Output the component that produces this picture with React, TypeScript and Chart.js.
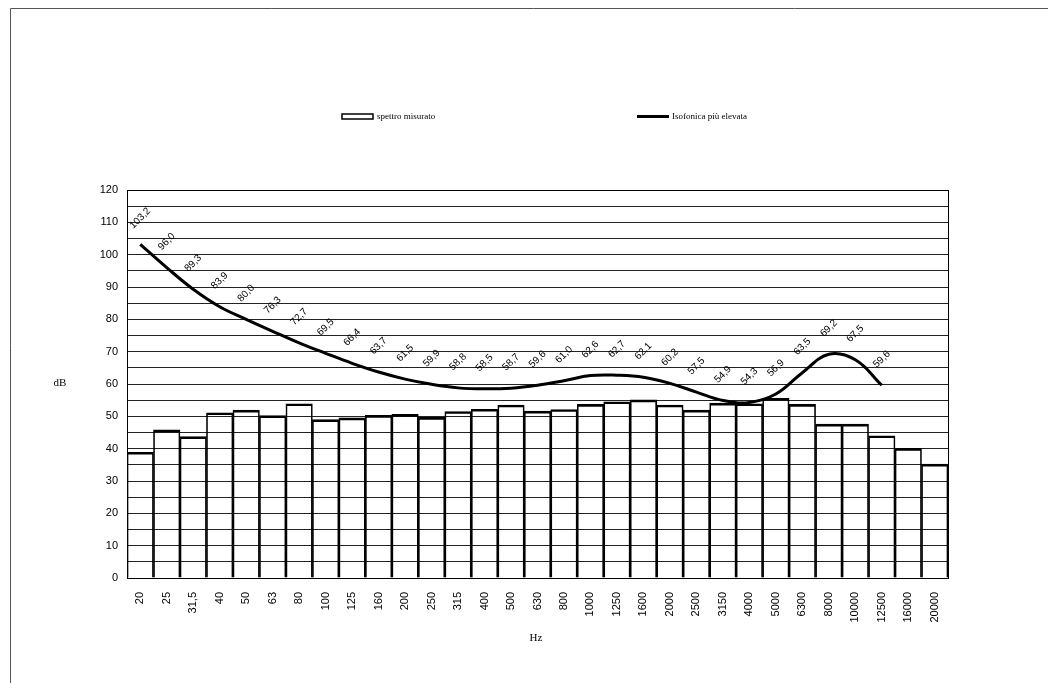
import React, { useEffect, useRef } from "react";
import { Chart, registerables } from "chart.js";

Chart.register(...registerables);

const categories = [
  "20", "25", "31,5", "40", "50", "63", "80", "100", "125", "160", "200", "250",
  "315", "400", "500", "630", "800", "1000", "1250", "1600", "2000", "2500",
  "3150", "4000", "5000", "6300", "8000", "10000", "12500", "16000", "20000",
];

const spettroMisurato = [
  38.9, 45.8, 43.7, 51.1, 51.9, 50.2, 53.9, 49.0, 49.5, 50.3, 50.6, 49.7,
  51.5, 52.2, 53.5, 51.6, 52.1, 53.7, 54.5, 55.1, 53.5, 51.9, 54.1, 53.9,
  55.6, 53.7, 47.6, 47.6, 44.0, 40.1, 35.2,
];

const isofonica = [
  103.2, 96.0, 89.3, 83.9, 80.0, 76.3, 72.7, 69.5, 66.4, 63.7, 61.5, 59.9,
  58.8, 58.5, 58.7, 59.6, 61.0, 62.6, 62.7, 62.1, 60.2, 57.5, 54.9, 54.3,
  56.9, 63.5, 69.2, 67.5, 59.6, null, null,
];

const yTicks = [0, 10, 20, 30, 40, 50, 60, 70, 80, 90, 100, 110, 120];

const W = 1048;
const H = 675;

const decorPlugin = {
  id: "decor",
  afterDatasetsDraw(chart: any) {
    const { ctx, chartArea } = chart;
    ctx.save();
    // plot area border
    ctx.strokeStyle = "#000";
    ctx.lineWidth = 1;
    ctx.strokeRect(
      Math.round(chartArea.left) + 0.5,
      Math.round(chartArea.top) + 0.5,
      Math.round(chartArea.right - chartArea.left),
      Math.round(chartArea.bottom - chartArea.top)
    );
    // data labels for line
    const meta = chart.getDatasetMeta(1);
    ctx.fillStyle = "#000";
    ctx.font = "10px 'Liberation Sans', sans-serif";
    ctx.textAlign = "center";
    ctx.textBaseline = "middle";
    meta.data.forEach((pt: any, i: number) => {
      const v = isofonica[i];
      if (v === null || v === undefined) return;
      ctx.save();
      ctx.translate(pt.x, pt.y - 26);
      ctx.rotate(-Math.PI / 4);
      ctx.fillText(v.toFixed(1).replace(".", ","), 0, 0);
      ctx.restore();
    });
    ctx.restore();
  },
  afterDraw(chart: any) {
    const { ctx } = chart;
    ctx.save();
    // outer frame (top and left)
    ctx.strokeStyle = "#555";
    ctx.lineWidth = 1;
    ctx.beginPath();
    ctx.moveTo(W, 0.5);
    ctx.lineTo(2.5, 0.5);
    ctx.lineTo(2.5, H);
    ctx.stroke();

    // axis titles
    ctx.fillStyle = "#000";
    ctx.font = "11px 'Liberation Serif', serif";
    ctx.textAlign = "center";
    ctx.textBaseline = "middle";
    ctx.fillText("dB", 52, 375);
    ctx.fillText("Hz", 528, 630);

    // legend
    ctx.font = "9px 'Liberation Serif', serif";
    ctx.textAlign = "left";
    ctx.fillStyle = "#fff";
    ctx.fillRect(334, 106, 31, 5);
    ctx.strokeStyle = "#000";
    ctx.lineWidth = 1.5;
    ctx.strokeRect(334, 106, 31, 5);
    ctx.fillStyle = "#000";
    ctx.fillText("spettro misurato", 369, 109);
    ctx.lineWidth = 3;
    ctx.beginPath();
    ctx.moveTo(629, 108.5);
    ctx.lineTo(661, 108.5);
    ctx.stroke();
    ctx.fillText("Isofonica più elevata", 664, 109);
    ctx.restore();
  },
};

export default function App() {
  const ref = useRef<HTMLCanvasElement | null>(null);
  useEffect(() => {
    if (!ref.current) return;
    const chart = new Chart(ref.current, {
      type: "bar",
      data: {
        labels: categories,
        datasets: [
          {
            type: "bar",
            label: "spettro misurato",
            data: spettroMisurato,
            backgroundColor: "rgba(255,255,255,0)",
            borderColor: "#000",
            borderWidth: { top: 2, left: 1, right: 1, bottom: 0 },
            borderSkipped: false,
            barPercentage: 1,
            categoryPercentage: 1,
            order: 2,
          },
          {
            type: "line",
            label: "Isofonica più elevata",
            data: isofonica,
            borderColor: "#000",
            borderWidth: 3,
            pointRadius: 0,
            tension: 0.4,
            fill: false,
            spanGaps: false,
            order: 1,
          },
        ],
      },
      options: {
        responsive: false,
        animation: false,
        devicePixelRatio: 1,
        layout: { padding: { left: 0, right: 108, top: 182, bottom: 0 } },
        plugins: {
          legend: { display: false },
          tooltip: { enabled: false },
        },
        scales: {
          x: {
            grid: { display: false },
            border: { color: "#000", width: 1 },
            ticks: {
              color: "#000",
              font: { family: "'Liberation Sans', sans-serif", size: 11 },
              maxRotation: 90,
              minRotation: 90,
              autoSkip: false,
              padding: 6,
            },
            afterFit(scale: any) {
              scale.height = 105;
            },
          },
          y: {
            min: 0,
            max: 120,
            grid: { color: "#222", lineWidth: 1, drawTicks: false },
            border: { color: "#000", width: 1 },
            ticks: {
              stepSize: 5,
              autoSkip: false,
              color: "#000",
              font: { family: "'Liberation Sans', sans-serif", size: 11 },
              padding: 9,
              callback: (v: any) => (yTicks.includes(v) ? String(v) : ""),
            },
            afterFit(scale: any) {
              scale.width = 119;
            },
          },
        },
      },
      plugins: [decorPlugin],
    });
    return () => chart.destroy();
  }, []);
  return <canvas ref={ref} width={W} height={H} style={{ display: "block", width: W, height: H }} />;
}
